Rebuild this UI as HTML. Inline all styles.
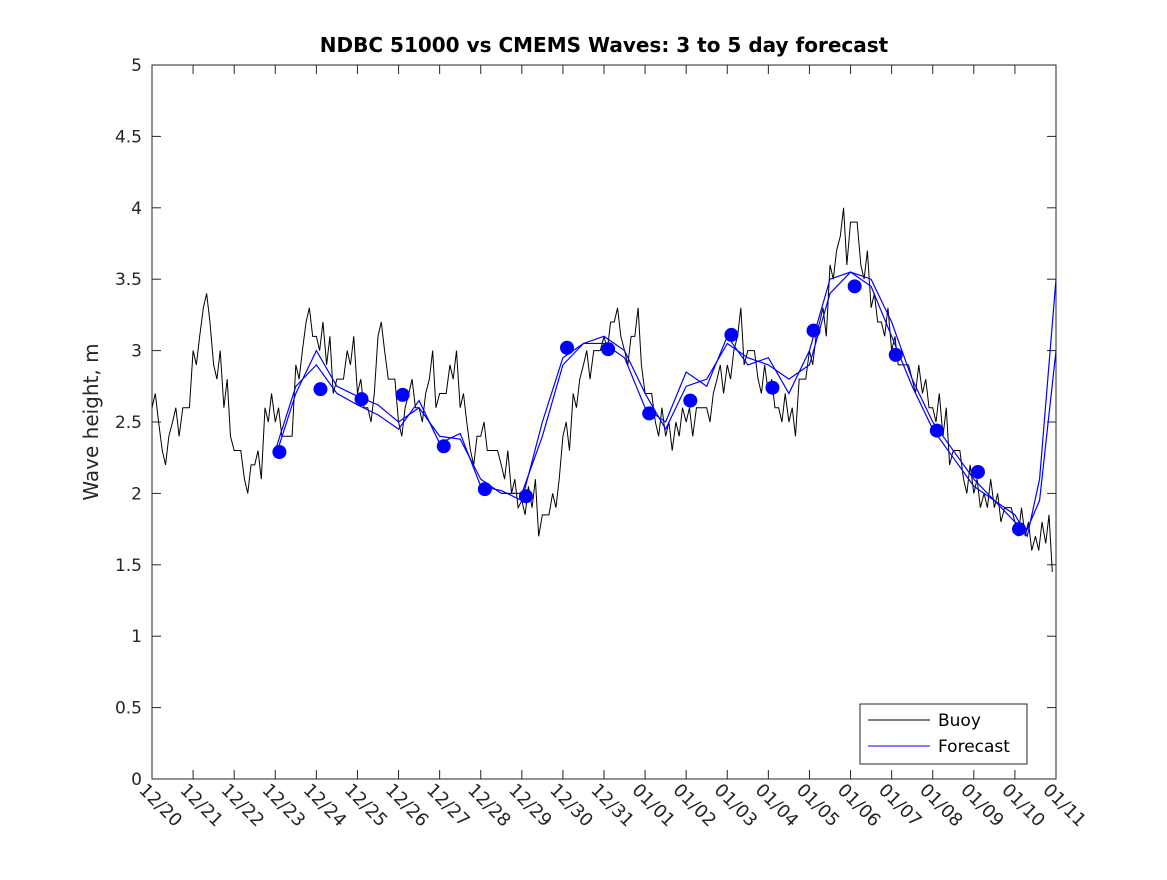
<!DOCTYPE html>
<html><head><meta charset="utf-8"><style>
body{margin:0;background:#fff;}
svg{font-family:"DejaVu Sans","Liberation Sans",sans-serif;}
</style></head><body>
<svg id="chart" width="1167" height="875">
<rect x="0" y="0" width="1167" height="875" fill="#fff"/>
<g id="plot"></g>
</svg>
<script>
const xTickLabels=["12/20","12/21","12/22","12/23","12/24","12/25","12/26","12/27","12/28","12/29","12/30","12/31","01/01","01/02","01/03","01/04","01/05","01/06","01/07","01/08","01/09","01/10","01/11"];
const yTicks=[0,0.5,1,1.5,2,2.5,3,3.5,4,4.5,5];
const buoyValues=[2.6,2.3,2.5,2.6, 3.0,3.3,2.9,2.6, 2.3,2.1,2.2,2.6, 2.5,2.4,2.9,3.2,
3.1,2.9,2.8,3.0, 2.7,2.6,3.1,2.8, 2.5,2.7,2.6,2.8, 2.7,2.9,2.6,2.3, 2.4,2.3,2.2,2.0,
1.95,1.9,1.85,2.0, 2.4,2.7,2.9,3.0, 3.1,3.2,3.0,3.1, 2.7,2.5,2.4,2.5, 2.5,2.6,2.6,2.8,
2.9,3.1,3.0,2.8, 2.7,2.6,2.5,2.8, 3.0,3.2,3.6,3.8, 3.9,3.6,3.3,3.2, 3.0,2.9,2.8,2.7,
2.6,2.4,2.3,2.1, 2.0,2.0,1.9,1.9, 1.8,1.7,1.7,1.65];
const buoyJitter=[0.1,-0.1,0.1,0,-0.1,0.1,-0.1,0.2,0,-0.1];
const dotDays=[3.1,4.1,5.1,6.1,7.1,8.1,9.1,10.1,11.1,12.1,13.1,14.1,15.1,16.1,17.1,18.1,19.1,20.1,21.1];
const dotValues=[2.29,2.73,2.66,2.69,2.33,2.03,1.98,3.02,3.01,2.56,2.65,3.11,2.74,3.14,3.45,2.97,2.44,2.15,1.75];
const fcDays=[3,3.5,4,4.5,5,5.5,6,6.5,7,7.5,8,8.5,9,9.5,10,10.5,11,11.5,12,12.5,13,13.5,14,14.5,15,15.5,16,16.5,17,17.5,18,18.5,19,19.5,20,20.5,21,21.3,21.6,22];
const fcA=[2.25,2.7,3.0,2.75,2.68,2.62,2.5,2.6,2.4,2.38,2.1,2.0,2.0,2.4,2.9,3.05,3.1,3.0,2.7,2.45,2.75,2.8,3.05,2.95,2.9,2.8,2.9,3.4,3.55,3.5,3.2,2.8,2.5,2.3,2.1,1.95,1.85,1.7,2.1,3.5];
const fcB=[2.3,2.75,2.9,2.7,2.62,2.55,2.45,2.65,2.35,2.42,2.05,2.02,1.95,2.5,2.95,3.05,3.05,2.95,2.6,2.5,2.85,2.75,3.1,2.9,2.95,2.7,3.0,3.5,3.55,3.45,3.1,2.75,2.45,2.25,2.05,1.95,1.8,1.75,1.95,3.0];
const L=152,R=1056,T=65,B=779,ns="http://www.w3.org/2000/svg";
const xs=d=>L+(R-L)*d/22, ys=v=>B-(B-T)*v/5;
const g=document.getElementById('plot');
function mk(t,a,p){const e=document.createElementNS(ns,t);for(const k in a)e.setAttribute(k,a[k]);(p||g).appendChild(e);return e;}
let e=mk('rect',{x:L,y:T,width:R-L,height:B-T,fill:'#fff',stroke:'#262626','stroke-width':1});


yTicks.forEach(v=>{const y=ys(v);
mk('line',{x1:L,x2:L+9,y1:y,y2:y,stroke:'#262626'});mk('line',{x1:R,x2:R-9,y1:y,y2:y,stroke:'#262626'});
const t=mk('text',{x:L-10,y:y+6,'text-anchor':'end','font-size':17,fill:'#262626'});t.textContent=String(v);

});
xTickLabels.forEach((s,i)=>{const x=xs(i);
mk('line',{x1:x,x2:x,y1:B,y2:B-9,stroke:'#262626'});mk('line',{x1:x,x2:x,y1:T,y2:T+9,stroke:'#262626'});
const t=mk('text',{x:x-14,y:B+12,'font-size':18,fill:'#262626',transform:`rotate(45 ${x-14} ${B+12})`});t.textContent=s;

});
let pts=[];buoyValues.forEach((v,i)=>{const j=buoyJitter[i%buoyJitter.length];const d=i*0.25;
pts.push([xs(d),ys(v)],[xs(d+0.08),ys(v+j)],[xs(d+0.16),ys(v-j)]);});
e=mk('path',{d:'M'+pts.map(p=>p.join(',')).join('L'),fill:'none',stroke:'#000','stroke-width':1});


[fcA,fcB].forEach((arr,k)=>{e=mk('path',{d:'M'+fcDays.map((d,i)=>xs(d)+','+ys(arr[i])).join('L'),fill:'none',stroke:'#0000ff','stroke-width':1.2});

});
dotDays.forEach((d,i)=>{e=mk('circle',{cx:xs(d),cy:ys(dotValues[i]),r:7,fill:'#0000ff'});

});
e=mk('text',{x:604,y:52,'text-anchor':'middle','font-size':20,'font-weight':'bold',fill:'#000'});e.textContent='NDBC 51000 vs CMEMS Waves: 3 to 5 day forecast';


e=mk('text',{x:98,y:422,'text-anchor':'middle','font-size':20,fill:'#262626',transform:'rotate(-90 98 422)'});e.textContent='Wave height, m';


const lg=mk('g',{});


mk('rect',{x:860,y:704,width:167,height:60,fill:'#fff',stroke:'#262626'},lg);
mk('line',{x1:868,x2:930,y1:720,y2:720,stroke:'#000'},lg);
mk('line',{x1:868,x2:930,y1:746,y2:746,stroke:'#0000ff'},lg);
e=mk('text',{x:938,y:726,'font-size':17,fill:'#000'},lg);e.textContent='Buoy';


e=mk('text',{x:938,y:752,'font-size':17,fill:'#000'},lg);e.textContent='Forecast';


</script>
</body></html>
